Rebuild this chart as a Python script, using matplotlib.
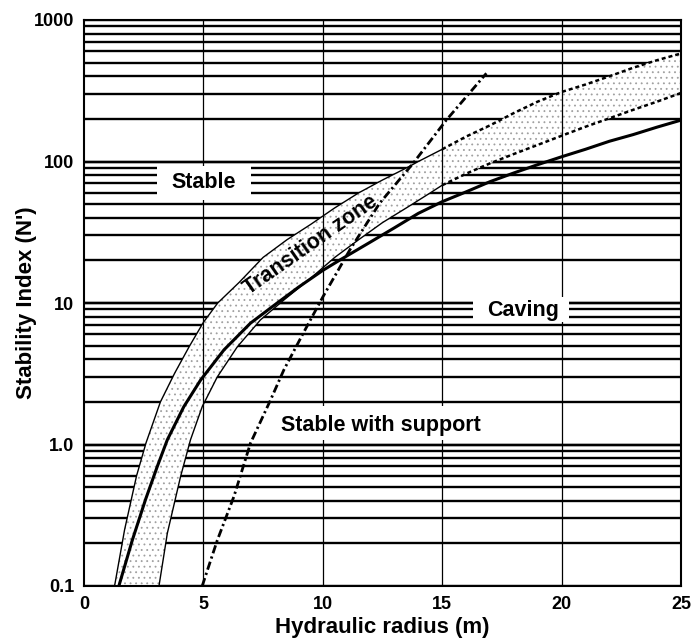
import matplotlib.pyplot as plt
import numpy as np
from matplotlib.patches import Polygon, Rectangle

plt.rcParams['font.family'] = ['Liberation Sans', 'DejaVu Sans']
plt.rcParams['font.weight'] = 'bold'
plt.rcParams['hatch.linewidth'] = 0.6

# stable / transition boundary (solid part)
upper_hr = [1.28, 1.7, 2.2, 2.6, 3.2, 3.8, 4.4, 5.0, 5.6, 6.5, 7.5, 8.5, 9.5, 10.5, 11.5, 12.5, 13.5, 14.0, 15.0]
upper_n = [0.1, 0.25, 0.6, 1.03, 2.0, 3.2, 4.9, 7.3, 10, 14, 21, 28, 36, 47, 60, 74, 90, 100, 122]
# extrapolated upper boundary (dashed)
upper_dash_hr = [15, 16, 17, 18, 19, 20, 21, 22, 23, 24, 25]
upper_dash_n = [122, 150, 180, 220, 265, 310, 350, 400, 460, 520, 580]

# transition / caving boundary (solid part)
lower_hr = [3.14, 3.49, 4.04, 4.46, 4.95, 5.58, 6.42, 7.39, 8.37, 9.5, 10.5, 11.5, 12.5, 13.5, 14.5, 15.0]
lower_n = [0.1, 0.236, 0.59, 1.08, 1.85, 3.0, 4.9, 7.6, 10.5, 15, 21, 28, 37, 47, 60, 68]
lower_dash_hr = [15, 16, 17, 18, 19, 20, 21, 22, 23, 24, 25]
lower_dash_n = [68, 82, 97, 113, 131, 152, 176, 202, 232, 265, 305]

# stable / caving line (thick)
mid_hr = [1.46, 2.02, 2.58, 3.07, 3.49, 4.18, 4.88, 5.86, 6.97, 8.09, 9.0, 10.0, 10.71, 12, 13, 14, 15, 16, 17, 18, 19, 20, 21, 22, 23, 24, 25]
mid_n = [0.1, 0.21, 0.41, 0.70, 1.08, 1.85, 2.85, 4.66, 7.2, 10, 13, 17, 20.1, 27, 34, 43, 52, 61, 72, 83, 95, 108, 122, 139, 155, 175, 196]

# stable with support limit (dash-dot)
support_hr = [4.95, 5.58, 6.28, 6.97, 7.81, 8.37, 9.2, 10.01, 11.13, 12.38, 13.78, 15.17, 16.85]
support_n = [0.1, 0.21, 0.43, 1.02, 2.06, 3.37, 6.2, 11.1, 23.7, 50.7, 97, 196, 420]

x_ticks = [0, 5, 10, 15, 20, 25]
y_ticks = [0.1, 1, 10, 100, 1000]
y_labels = ['0.1', '1.0', '10', '100', '1000']

fig = plt.figure(figsize=(6.91, 6.41), dpi=100)
ax = fig.add_axes([84 / 691, 1 - 586 / 641, 597 / 691, 566 / 641])
ax.set_yscale('log')
ax.set_xlim(0, 25)
ax.set_ylim(0.1, 1000)

# heavy horizontal rules at every log step
for dec in [0.1, 1, 10, 100]:
    for k in range(1, 11):
        ax.axhline(dec * k, color='black', lw=1.7, zorder=1)
for xv in [5, 10, 15, 20]:
    ax.axvline(xv, color='black', lw=0.9, zorder=2.5)

# shaded transition zone
top = list(zip(upper_hr, upper_n)) + list(zip(upper_dash_hr[1:], upper_dash_n[1:]))
bot = list(zip(lower_hr, lower_n)) + list(zip(lower_dash_hr[1:], lower_dash_n[1:]))
verts = top + bot[::-1]
ax.add_patch(Polygon(verts, closed=True, facecolor='white', edgecolor='none', zorder=2))
ax.add_patch(Polygon(verts, closed=True, facecolor='none', edgecolor='#a0a0a0',
                     hatch='...', linewidth=0, zorder=2.2))

ax.plot(upper_hr, upper_n, color='black', lw=1.0, zorder=3)
ax.plot(upper_dash_hr, upper_dash_n, color='black', lw=1.8, ls=(0, (1.6, 1.2)), zorder=3)
ax.plot(lower_hr, lower_n, color='black', lw=1.0, zorder=3)
ax.plot(lower_dash_hr, lower_dash_n, color='black', lw=1.8, ls=(0, (1.6, 1.2)), zorder=3)
ax.plot(mid_hr, mid_n, color='black', lw=2.2, zorder=3.2)
ax.plot(support_hr, support_n, color='black', lw=2.0, ls=(0, (3, 1.2, 0.8, 1.2)), zorder=3.1)

# white patches behind the region labels
ax.add_patch(Rectangle((3.05, 53.5), 3.95, 39.5, facecolor='white', edgecolor='none', zorder=4))
ax.add_patch(Rectangle((16.28, 7.35), 4.05, 3.65, facecolor='white', edgecolor='none', zorder=4))
ax.add_patch(Rectangle((8.1, 1.08), 8.7, 0.79, facecolor='white', edgecolor='none', zorder=4))

lab = dict(fontsize=15.5, fontweight='bold', ha='center', va='center', zorder=5)
ax.text(5.0, 71, 'Stable', **lab)
ax.text(18.37, 8.9, 'Caving', **lab)
ax.text(12.43, 1.37, 'Stable with support', **lab)
ax.text(9.5, 25.7, 'Transition zone', rotation=35, rotation_mode='anchor', **lab)

ax.set_xticks(x_ticks)
ax.set_yticks(y_ticks)
ax.set_yticklabels(y_labels)
ax.yaxis.set_minor_locator(plt.NullLocator())
ax.tick_params(length=0, labelsize=13, pad=7)
ax.set_xlabel('Hydraulic radius (m)', fontsize=16, fontweight='bold', labelpad=3)
ax.set_ylabel("Stability Index (N')", fontsize=16, fontweight='bold', labelpad=-2)
for s in ax.spines.values():
    s.set_linewidth(1.5)
    s.set_zorder(6)

fig.savefig('out.png', dpi=100)
